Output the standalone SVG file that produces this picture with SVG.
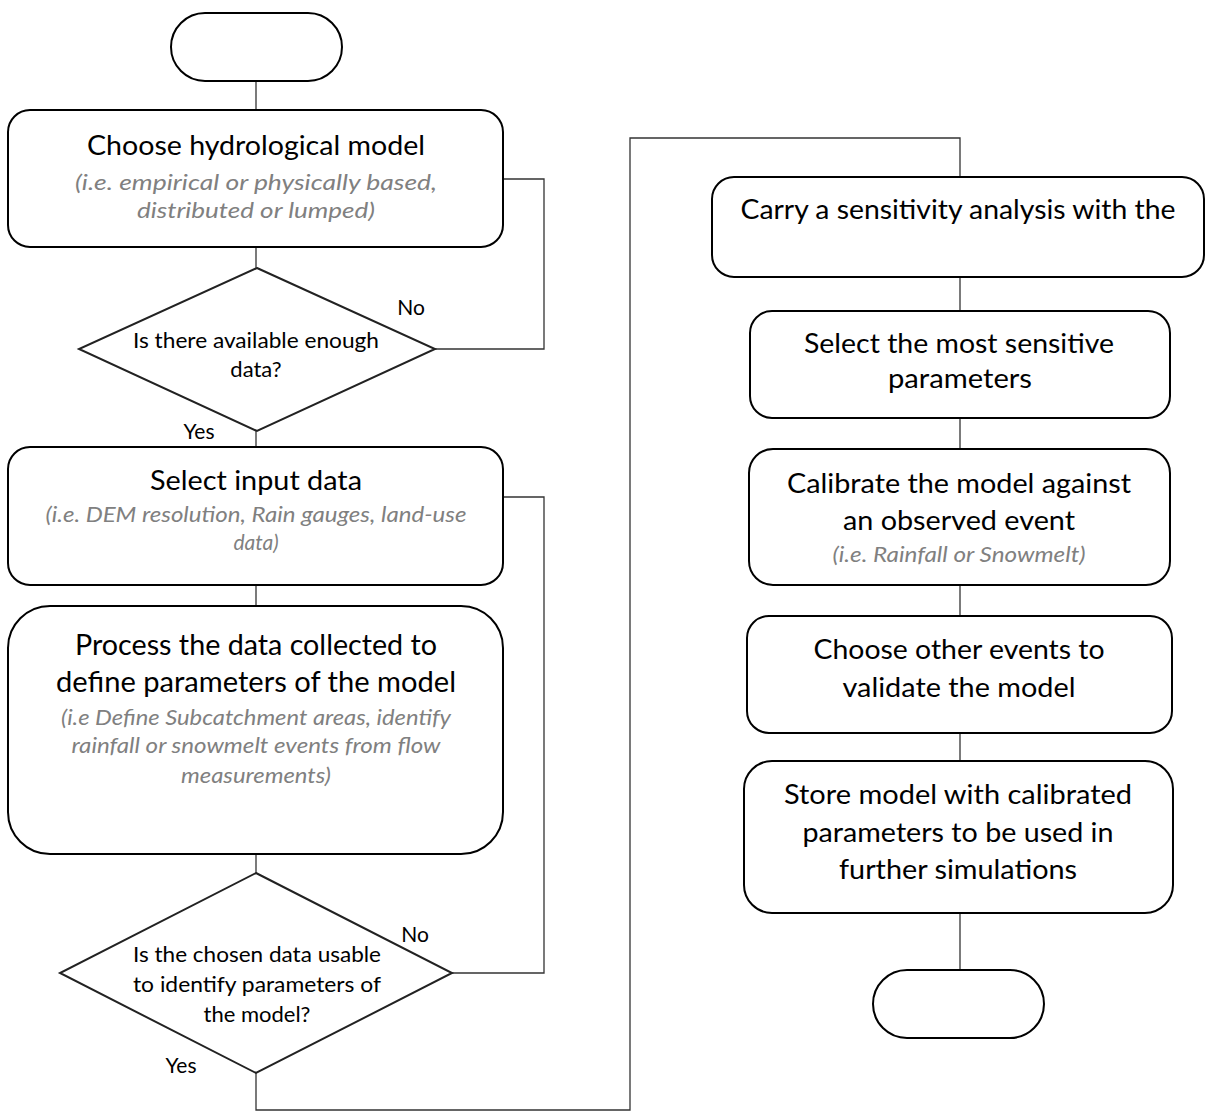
<svg xmlns="http://www.w3.org/2000/svg" width="1209" height="1118" viewBox="0 0 1209 1118">
<style>
.node{fill:#fff;stroke:#000;stroke-width:2}
.dia{fill:#fff;stroke:#222;stroke-width:2}
.con{fill:none;stroke:#333;stroke-width:1.3}
text{font-family:Lato,"Open Sans","Liberation Sans",sans-serif;text-anchor:middle;fill:#000}
.m{font-size:26px}
.b{font-size:28px}
.s{font-size:21px;font-style:italic;fill:#808080}
.d{font-size:22px}
.l{font-size:21px}
</style>
<rect width="1209" height="1118" fill="#fff"/>
<g id="connectors">
<path class="con" d="M256 81V110"/>
<path class="con" d="M256 247V268"/>
<path class="con" d="M435 349H544V179H503"/>
<path class="con" d="M256 431V447"/>
<path class="con" d="M256 585V606"/>
<path class="con" d="M256 854V873"/>
<path class="con" d="M452 973H544V497H503"/>
<path class="con" d="M256 1073V1110H630V138H960V177"/>
<path class="con" d="M960 277V311"/>
<path class="con" d="M960 418V449"/>
<path class="con" d="M960 585V616"/>
<path class="con" d="M960 733V761"/>
<path class="con" d="M960 913V970"/>
</g>
<g id="start">
<rect class="node" x="171" y="13" width="171" height="68" rx="34"/>
</g>
<g id="choose-model">
<rect class="node" x="8" y="110" width="495" height="137" rx="22"/>
<text class="m" x="256" y="155" textLength="338" lengthAdjust="spacingAndGlyphs">Choose hydrological model</text>
<text class="s" x="256" y="190" textLength="362" lengthAdjust="spacingAndGlyphs">(i.e. empirical or physically based,</text>
<text class="s" x="256" y="218" textLength="238" lengthAdjust="spacingAndGlyphs">distributed or lumped)</text>
</g>
<g id="decision-data">
<polygon class="dia" points="257,268 435,349 257,431 79,349"/>
<text class="d" x="256" y="348" textLength="246" lengthAdjust="spacingAndGlyphs">Is there available enough</text>
<text class="d" x="256" y="377">data?</text>
<text class="l" x="411" y="315">No</text>
<text class="l" x="199" y="439">Yes</text>
</g>
<g id="select-input">
<rect class="node" x="8" y="447" width="495" height="138" rx="22"/>
<text class="m" x="256" y="490" textLength="212" lengthAdjust="spacingAndGlyphs">Select input data</text>
<text class="s" x="256" y="522" textLength="421" lengthAdjust="spacingAndGlyphs">(i.e. DEM resolution, Rain gauges, land-use</text>
<text class="s" x="256" y="550">data)</text>
</g>
<g id="process-data">
<rect class="node" x="8" y="606" width="495" height="248" rx="42"/>
<text class="b" x="256" y="655" textLength="362" lengthAdjust="spacingAndGlyphs">Process the data collected to</text>
<text class="b" x="256" y="692" textLength="400" lengthAdjust="spacingAndGlyphs">define parameters of the model</text>
<text class="s" x="256" y="725" textLength="390" lengthAdjust="spacingAndGlyphs">(i.e Define Subcatchment areas, identify</text>
<text class="s" x="256" y="753" textLength="369" lengthAdjust="spacingAndGlyphs">rainfall or snowmelt events from flow</text>
<text class="s" x="256" y="783" textLength="150" lengthAdjust="spacingAndGlyphs">measurements)</text>
</g>
<g id="decision-usable">
<polygon class="dia" points="256,873 452,973 256,1073 60,973"/>
<text class="d" x="257" y="962" textLength="248" lengthAdjust="spacingAndGlyphs">Is the chosen data usable</text>
<text class="d" x="257" y="992" textLength="248" lengthAdjust="spacingAndGlyphs">to identify parameters of</text>
<text class="d" x="257" y="1022">the model?</text>
<text class="l" x="415" y="942">No</text>
<text class="l" x="181" y="1073">Yes</text>
</g>
<g id="sensitivity">
<rect class="node" x="712" y="177" width="492" height="100" rx="22"/>
<text class="m" x="958" y="219" textLength="435" lengthAdjust="spacingAndGlyphs">Carry a sensitivity analysis with the</text>
</g>
<g id="select-sensitive">
<rect class="node" x="750" y="311" width="420" height="107" rx="22"/>
<text class="m" x="959" y="353" textLength="310" lengthAdjust="spacingAndGlyphs">Select the most sensitive</text>
<text class="m" x="960" y="388" textLength="144" lengthAdjust="spacingAndGlyphs">parameters</text>
</g>
<g id="calibrate">
<rect class="node" x="749" y="449" width="421" height="136" rx="24"/>
<text class="m" x="959" y="493" textLength="344" lengthAdjust="spacingAndGlyphs">Calibrate the model against</text>
<text class="m" x="959" y="530" textLength="232" lengthAdjust="spacingAndGlyphs">an observed event</text>
<text class="s" x="959" y="562" textLength="253" lengthAdjust="spacingAndGlyphs">(i.e. Rainfall or Snowmelt)</text>
</g>
<g id="validate">
<rect class="node" x="747" y="616" width="425" height="117" rx="22"/>
<text class="m" x="959" y="659" textLength="291" lengthAdjust="spacingAndGlyphs">Choose other events to</text>
<text class="m" x="959" y="697" textLength="233" lengthAdjust="spacingAndGlyphs">validate the model</text>
</g>
<g id="store">
<rect class="node" x="744" y="761" width="429" height="152" rx="28"/>
<text class="m" x="958" y="804" textLength="348" lengthAdjust="spacingAndGlyphs">Store model with calibrated</text>
<text class="m" x="958" y="842" textLength="311" lengthAdjust="spacingAndGlyphs">parameters to be used in</text>
<text class="m" x="958" y="879" textLength="238" lengthAdjust="spacingAndGlyphs">further simulations</text>
</g>
<g id="end">
<rect class="node" x="873" y="970" width="171" height="68" rx="34"/>
</g>
</svg>
